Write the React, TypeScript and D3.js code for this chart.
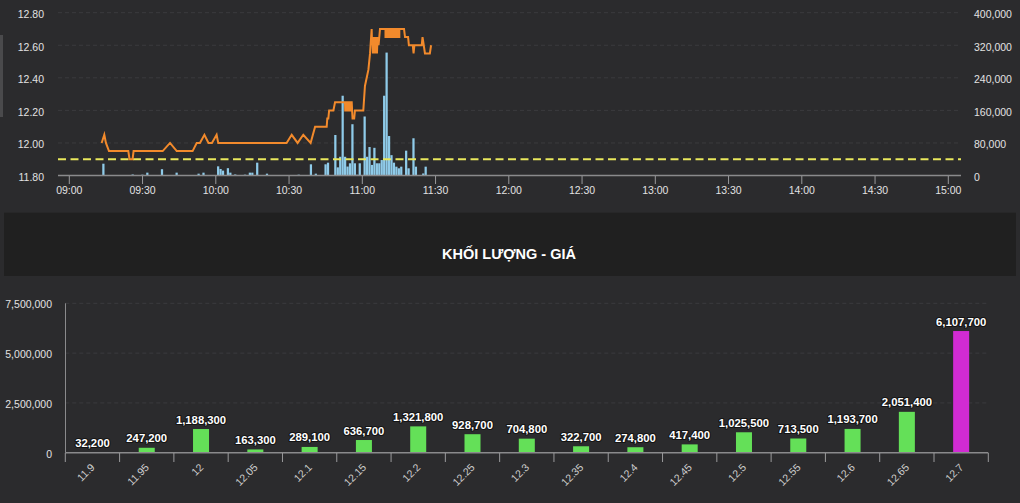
import React from "react";
import * as d3 from "d3";

// ---------- Intraday (top) data ----------
const priceTimes = [
  "09:13:15","09:14:20","09:15:00","09:16:15","09:24:10","09:24:40","09:25:55","09:26:20",
  "09:38:15","09:41:15","09:44:00","09:50:30","09:52:10","09:53:30","09:55:20","09:57:00",
  "09:58:25","10:00:20","10:01:00","10:29:00","10:31:05","10:33:30","10:35:50","10:38:50",
  "10:40:40","10:45:25","10:45:40","10:46:05","10:46:25","10:48:10","10:48:50",
  "10:52:55","10:53:00","10:53:15","10:53:20","10:53:35","10:53:40","10:53:55","10:54:00",
  "10:54:15","10:54:20","10:54:35","10:54:40","10:54:55","10:55:00","10:55:15","10:55:20",
  "10:55:40","10:56:00","10:56:40","10:57:00","11:00:25","11:01:05","11:01:48","11:02:30",
  "11:03:10","11:03:50","11:04:00","11:04:10","11:04:20","11:04:30","11:04:40","11:04:50",
  "11:05:00","11:05:10","11:05:20","11:05:30","11:05:40","11:05:50","11:06:00","11:06:15",
  "11:06:40","11:07:15","11:09:15",
  "11:09:30","11:09:30","11:09:50","11:09:50","11:10:10","11:10:10","11:10:30","11:10:30",
  "11:10:50","11:10:50","11:11:10","11:11:10","11:11:30","11:11:30","11:11:50","11:11:50",
  "11:12:10","11:12:10","11:12:30","11:12:30","11:12:50","11:12:50","11:13:10","11:13:10",
  "11:13:30","11:13:30","11:13:50","11:13:50","11:14:10","11:14:10","11:14:30","11:14:30",
  "11:14:50","11:14:50","11:15:10","11:15:10",
  "11:17:05","11:17:30","11:18:45","11:19:05","11:20:40",
  "11:21:00","11:21:20","11:24:20","11:24:40","11:25:10","11:25:40","11:27:40","11:28:10",
];
const priceValues = [
  12.0, 12.05, 12.0, 11.95, 11.95, 11.9, 11.9, 11.95,
  11.95, 12.0, 11.95, 11.95, 12.0, 12.0, 12.05, 12.0,
  12.0, 12.05, 12.0, 12.0, 12.05, 12.0, 12.05, 12.0,
  12.1, 12.1, 12.15, 12.15, 12.2, 12.2, 12.25,
  12.25, 12.2, 12.2, 12.25, 12.25, 12.2, 12.2, 12.25,
  12.25, 12.2, 12.2, 12.25, 12.25, 12.2, 12.2, 12.25,
  12.25, 12.15, 12.15, 12.2, 12.2, 12.35, 12.4, 12.45,
  12.55, 12.7, 12.6, 12.65, 12.55, 12.65, 12.55, 12.6,
  12.55, 12.65, 12.55, 12.65, 12.55, 12.65, 12.55, 12.65,
  12.6, 12.7, 12.7,
  12.7, 12.65, 12.65, 12.7, 12.7, 12.65, 12.65, 12.7,
  12.7, 12.65, 12.65, 12.7, 12.7, 12.65, 12.65, 12.7,
  12.7, 12.65, 12.65, 12.7, 12.7, 12.65, 12.65, 12.7,
  12.7, 12.65, 12.65, 12.7, 12.7, 12.65, 12.65, 12.7,
  12.7, 12.65, 12.65, 12.7,
  12.7, 12.65, 12.65, 12.6, 12.6,
  12.55, 12.6, 12.6, 12.65, 12.6, 12.55, 12.55, 12.6,
];
const volTimes = [
  "09:14","09:26","09:30","09:32","09:38","09:44","09:53","09:55",
  "10:01","10:02","10:03","10:05","10:06","10:08","10:12","10:14","10:15","10:17",
  "10:21","10:34","10:39","10:41","10:45","10:46","10:49","10:50","10:51","10:52",
  "10:53","10:54","10:55","10:56","10:57","10:58","10:59",
  "11:01","11:02","11:03","11:04","11:05","11:06","11:07","11:08","11:09","11:10",
  "11:11","11:12","11:13","11:14","11:15","11:16","11:18","11:19","11:21","11:22",
  "11:25","11:26",
];
const volValues = [
  29000, 2500, 2000, 7000, 15500, 7000, 4500, 7000,
  22500, 16000, 12000, 18000, 7000, 2500, 2000, 7000, 7000, 31500,
  4500, 2000, 27500, 4500, 27500, 31500, 99500, 20000, 46000, 196000,
  46000, 22000, 30000, 126000, 30000, 2000, 30000,
  145000, 46000, 70000, 26000, 68000, 30000, 30000, 38000, 196000, 302000,
  97000, 50000, 31500, 21700, 17700, 21700, 61000, 17700, 91500, 21700,
  5000, 21700,
];
const referencePrice = 11.9;
const timeTicks = [
  "09:00","09:30","10:00","10:30","11:00","11:30","12:00",
  "12:30","13:00","13:30","14:00","14:30","15:00",
];
const priceTicks = [11.8, 12.0, 12.2, 12.4, 12.6, 12.8];
const volTicks = [0, 80000, 160000, 240000, 320000, 400000];

// ---------- Volume by price (bottom) data ----------
const chartTitle = "KHỐI LƯỢNG - GIÁ";
const levelLabels = [
  "11.9","11.95","12","12.05","12.1","12.15","12.2","12.25","12.3",
  "12.35","12.4","12.45","12.5","12.55","12.6","12.65","12.7",
];
const levelVolumes = [
  32200, 247200, 1188300, 163300, 289100, 636700, 1321800, 928700, 704800,
  322700, 274800, 417400, 1025500, 713500, 1193700, 2051400, 6107700,
];
const levelTicks = [0, 2500000, 5000000, 7500000];

function toMin(s: string): number {
  const p = s.split(":");
  return +p[0] * 60 + +p[1] + (p[2] ? +p[2] / 60 : 0);
}

const FONT = "'Liberation Sans', Arial, Helvetica, sans-serif";

export default function App() {
  const W = 1020;
  const H = 503;

  // top chart scales
  const x = d3.scaleLinear().domain([toMin("09:00"), toMin("15:00")]).range([69.3, 948.3]);
  const yP = d3.scaleLinear().domain([11.8, 12.8]).range([175.5, 12.7]);
  const yV = d3.scaleLinear().domain([0, 400000]).range([175.5, 12.7]);
  const plotL = 58;
  const plotR = 961;
  const minW = x(toMin("09:01")) - x(toMin("09:00"));

  const pricePath =
    d3
      .line<number>()
      .x((_, i) => x(toMin(priceTimes[i])))
      .y((d) => yP(d))(priceValues) || "";

  // bottom chart scales
  const xb = d3.scaleBand<string>().domain(levelLabels).range([65.3, 988.3]).padding(0);
  const yb = d3.scaleLinear().domain([0, 7500000]).range([452.7, 303.3]);
  const barW = xb.bandwidth() * 0.295;
  const maxVol = d3.max(levelVolumes) as number;
  const fmtComma = d3.format(",");
  const fmtPrice = d3.format(".2f");

  return (
    <div style={{ position: "fixed", left: 0, top: 0 }}>
      <style>{`body{margin:0;background:#2b2b2d;}`}</style>
      <svg width={W} height={H} style={{ display: "block", fontFamily: FONT }}>
        <rect x={0} y={0} width={W} height={H} fill="#2b2b2d" />
        <rect x={0} y={35} width={3} height={82} fill="#4a4a4c" />

        {/* ---------- top chart ---------- */}
        {priceTicks.slice(1).map((t) => (
          <line key={"gp" + t} x1={plotL} x2={plotR} y1={yP(t)} y2={yP(t)}
            stroke="#3b3b3e" strokeWidth={1} strokeDasharray="4 3" />
        ))}
        {priceTicks.map((t) => (
          <text key={"lp" + t} x={44} y={yP(t) + 5.5} textAnchor="end" fontSize={10.5} fill="#e2e2e2">
            {fmtPrice(t)}
          </text>
        ))}
        {volTicks.map((t) => (
          <text key={"lv" + t} x={974} y={yV(t) + 5.5} textAnchor="start" fontSize={10.5} fill="#e2e2e2">
            {fmtComma(t)}
          </text>
        ))}

        {volTimes.map((t, i) => (
          <rect key={"vb" + i} x={x(toMin(t)) - minW / 2} width={minW - 0.2}
            y={yV(volValues[i])} height={yV(0) - yV(volValues[i])} fill="#8fcbe9" />
        ))}

        <line x1={plotL} x2={plotR} y1={yP(referencePrice)} y2={yP(referencePrice)}
          stroke="#e9e85c" strokeWidth={2} strokeDasharray="8 4.5" />

        <path d={pricePath} fill="none" stroke="#f28a2c" strokeWidth={2} strokeLinejoin="miter" />

        <line x1={plotL} x2={plotR} y1={175.5} y2={175.5} stroke="#8a8a8c" strokeWidth={1.5} />
        {timeTicks.map((t) => (
          <g key={"tt" + t}>
            <line x1={x(toMin(t))} x2={x(toMin(t))} y1={176} y2={184} stroke="#9a9a9c" strokeWidth={1} />
            <text x={x(toMin(t))} y={194} textAnchor="middle" fontSize={10.5} fill="#e2e2e2">{t}</text>
          </g>
        ))}

        {/* ---------- title band ---------- */}
        <rect x={4} y={212.7} width={1012} height={63.3} fill="#202020" />
        <text x={509} y={259} textAnchor="middle" fontSize={14.5} fontWeight="bold" fill="#ffffff">
          {chartTitle}
        </text>

        {/* ---------- bottom chart ---------- */}
        {levelTicks.slice(1).map((t) => (
          <line key={"gb" + t} x1={65.3} x2={988.3} y1={yb(t)} y2={yb(t)}
            stroke="#3b3b3e" strokeWidth={1} strokeDasharray="4 3" />
        ))}
        {levelTicks.map((t) => (
          <text key={"lb" + t} x={52} y={yb(t) + 5} textAnchor="end" fontSize={10.5} fill="#e2e2e2">
            {fmtComma(t)}
          </text>
        ))}
        <line x1={65.5} x2={65.5} y1={303.3} y2={452.7} stroke="#8a8a8c" strokeWidth={1} />

        {levelLabels.map((c, i) => {
          const v = levelVolumes[i];
          const cx = (xb(c) as number) + xb.bandwidth() / 2;
          return (
            <rect key={"bb" + c} x={cx - barW / 2} width={barW} y={yb(v)} height={yb(0) - yb(v)}
              fill={v === maxVol ? "#d12bd3" : "#64e058"} />
          );
        })}

        <line x1={65.3} x2={988.3} y1={452.7} y2={452.7} stroke="#8a8a8c" strokeWidth={1.5} />
        {levelLabels.map((c, i) => (
          <line key={"bt" + i} x1={(xb(c) as number)} x2={(xb(c) as number)} y1={453} y2={462}
            stroke="#9a9a9c" strokeWidth={1} />
        ))}
        <line x1={988.3} x2={988.3} y1={453} y2={462} stroke="#9a9a9c" strokeWidth={1} />

        {levelLabels.map((c, i) => {
          const v = levelVolumes[i];
          const cx = (xb(c) as number) + xb.bandwidth() / 2;
          return (
            <text key={"vl" + c} x={cx} y={yb(v) - 5.5} textAnchor="middle" fontSize={11.3}
              fontWeight="bold" fill="#ffffff" stroke="#141414" strokeWidth={2.2}
              strokeLinejoin="round" style={{ paintOrder: "stroke" }}>
              {fmtComma(v)}
            </text>
          );
        })}

        {levelLabels.map((c) => {
          const cx = (xb(c) as number) + xb.bandwidth() / 2 + 3;
          const cy = 468;
          return (
            <text key={"cl" + c} x={cx} y={cy} textAnchor="end" fontSize={10.5} fill="#cfcfcf"
              transform={`rotate(-45 ${cx} ${cy})`}>
              {c}
            </text>
          );
        })}
      </svg>
    </div>
  );
}
